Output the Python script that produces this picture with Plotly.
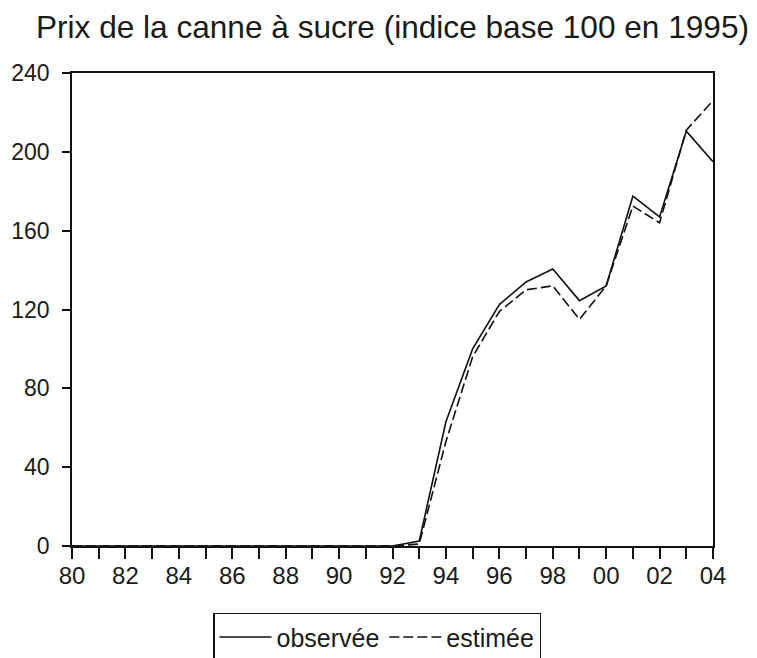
import plotly.graph_objects as go

years = list(range(1980, 2005))
observee = [0, 0, 0, 0, 0, 0, 0, 0, 0, 0, 0, 0, 0,
            2.5, 63, 100, 122.5, 134, 140.5, 124.5, 132, 177.5, 167, 210.5, 195]
estimee = [0, 0, 0, 0, 0, 0, 0, 0, 0, 0, 0, 0, 0,
           1, 53, 96, 119, 130, 132, 115, 132, 172.5, 164, 211, 226]
tick_labels = ["80", "", "82", "", "84", "", "86", "", "88", "", "90", "", "92", "",
               "94", "", "96", "", "98", "", "00", "", "02", "", "04"]
y_ticks = [0, 40, 80, 120, 160, 200, 240]

FONT = "Arial, Liberation Sans, sans-serif"

fig = go.Figure()
fig.add_trace(go.Scatter(x=years, y=observee, mode="lines", name="observée",
                         line=dict(color="#111111", width=1.6)))
fig.add_trace(go.Scatter(x=years, y=estimee, mode="lines", name="estimée",
                         line=dict(color="#111111", width=1.6, dash="10px,4px")))

fig.update_layout(
    width=749, height=666,
    margin=dict(l=64, r=44, t=65, b=126),
    paper_bgcolor="white", plot_bgcolor="white",
    font=dict(family=FONT, color="#1a1a1a"),
    title=dict(text="Prix de la canne à sucre (indice base 100 en 1995)",
               font=dict(size=31.6, family=FONT, color="#1a1a1a"),
               xref="paper", x=0.5, xanchor="center",
               yref="container", y=1 - 19 / 666, yanchor="middle"),
    showlegend=True,
    legend=dict(orientation="h", x=(213 - 72) / 641, xanchor="left",
                y=-(607 - 540) / 475, yanchor="top",
                bordercolor="#111111", borderwidth=1.5, bgcolor="white",
                font=dict(size=25, family=FONT, color="#1a1a1a"),
                itemwidth=52, tracegroupgap=0),
    xaxis=dict(range=[1980, 2004], tickmode="array", tickvals=years, ticktext=tick_labels,
               ticks="outside", ticklen=11, tickwidth=1.5, tickcolor="#111111",
               showline=True, linecolor="#111111", linewidth=1.5, mirror=True,
               showgrid=False, zeroline=False, ticklabelstandoff=-4, automargin=False,
               tickfont=dict(size=24, family=FONT, color="#1a1a1a")),
    yaxis=dict(range=[0, 240], tickmode="array", tickvals=y_ticks,
               ticks="outside", ticklen=8, tickwidth=1.5, tickcolor="#111111",
               showline=True, linecolor="#111111", linewidth=1.5, mirror=True,
               showgrid=False, zeroline=False, ticklabelstandoff=8, automargin=False,
               tickfont=dict(size=23, family=FONT, color="#1a1a1a")),
)

fig.write_html("out.html")
